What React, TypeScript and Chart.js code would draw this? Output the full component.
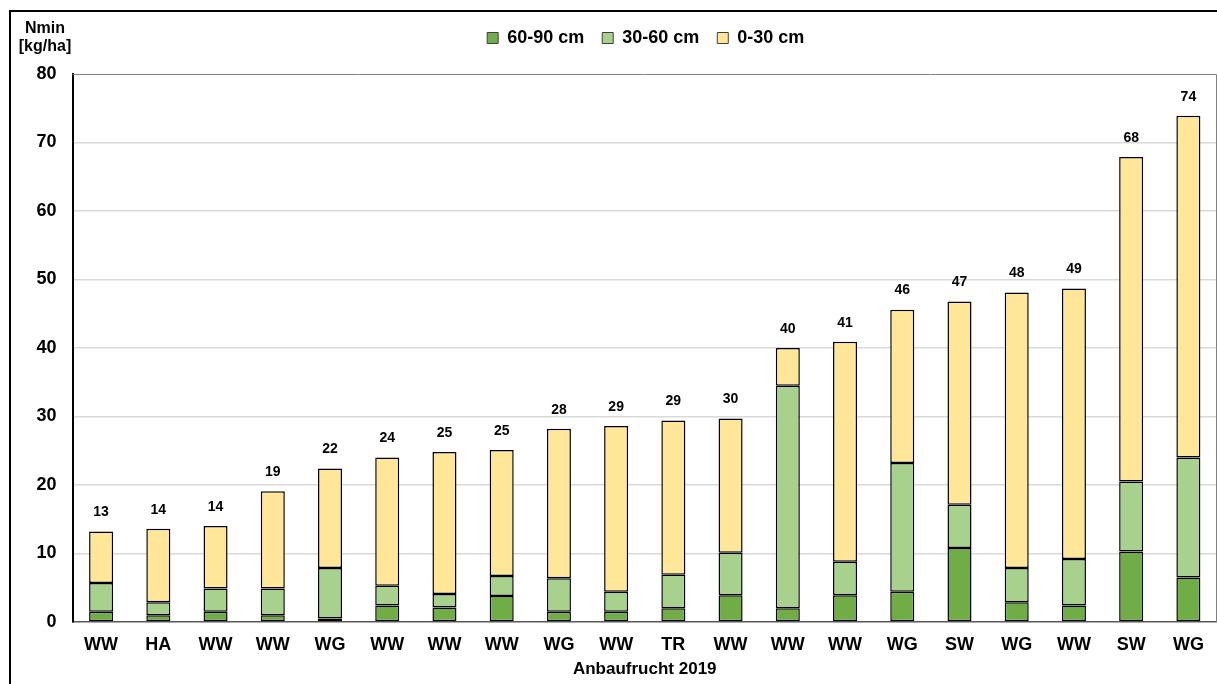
import React, { useEffect, useRef } from "react";
import { Chart, registerables } from "chart.js";

Chart.register(...registerables);

const categories = ["WW", "HA", "WW", "WW", "WG", "WW", "WW", "WW", "WG", "WW", "TR", "WW", "WW", "WW", "WG", "SW", "WG", "WW", "SW", "WG"];
const depth60to90 = [1.5, 1.0, 1.5, 1.0, 0.5, 2.4, 2.1, 3.8, 1.5, 1.5, 2.0, 3.9, 2.0, 3.9, 4.4, 10.8, 2.9, 2.4, 10.3, 6.5];
const depth30to60 = [4.2, 1.9, 3.4, 3.9, 7.4, 2.9, 2.0, 2.9, 4.9, 2.9, 4.9, 6.2, 32.5, 4.9, 18.8, 6.3, 5.0, 6.8, 10.2, 17.5];
const depth0to30 = [7.5, 10.7, 9.1, 14.2, 14.5, 18.7, 20.7, 18.4, 21.8, 24.2, 22.5, 19.6, 5.5, 32.1, 22.4, 29.7, 40.2, 39.5, 47.4, 49.9];
const yTicks = [0, 10, 20, 30, 40, 50, 60, 70, 80];

const FONT = "'Liberation Sans', Arial, sans-serif";

const decorPlugin = {
  id: "decor",
  afterLayout(chart: any) {
    if (chart.legend) {
      chart.legend.left += 20;
      chart.legend.right += 20;
    }
  },
  beforeDraw(chart: any) {
    const ctx = chart.ctx;
    ctx.save();
    ctx.strokeStyle = "#000";
    ctx.lineWidth = 2;
    ctx.beginPath();
    ctx.moveTo(10, 684);
    ctx.lineTo(10, 11);
    ctx.lineTo(1217, 11);
    ctx.stroke();
    ctx.fillStyle = "#000";
    ctx.font = `bold 16px ${FONT}`;
    ctx.textAlign = "center";
    ctx.textBaseline = "middle";
    ctx.fillText("Nmin", 45, 29);
    ctx.fillText("[kg/ha]", 45, 47);
    ctx.restore();
  },
  afterDraw(chart: any) {
    const ctx = chart.ctx;
    const a = chart.chartArea;
    ctx.save();
    ctx.strokeStyle = "#808080";
    ctx.lineWidth = 1;
    ctx.beginPath();
    ctx.moveTo(a.left, a.top + 0.5);
    ctx.lineTo(a.right - 0.5, a.top + 0.5);
    ctx.lineTo(a.right - 0.5, a.bottom);
    ctx.stroke();
    const meta = chart.getDatasetMeta(2);
    ctx.fillStyle = "#000";
    ctx.font = `bold 14px ${FONT}`;
    ctx.textAlign = "center";
    ctx.textBaseline = "middle";
    meta.data.forEach((el: any, i: number) => {
      const total = depth60to90[i] + depth30to60[i] + depth0to30[i];
      ctx.fillText(String(Math.round(total)), el.x, el.y - 19);
    });
    ctx.restore();
  },
};

export default function App() {
  const ref = useRef<HTMLCanvasElement | null>(null);
  useEffect(() => {
    if (!ref.current) return;
    const ds = (label: string, data: number[], color: string) => ({
      label,
      data,
      backgroundColor: color,
      borderColor: "#000",
      borderWidth: 1.5,
      borderSkipped: false,
      categoryPercentage: 1,
      barPercentage: 0.42,
    });
    const chart = new Chart(ref.current, {
      type: "bar",
      data: {
        labels: categories,
        datasets: [
          ds("60-90 cm", depth60to90, "#70AD47"),
          ds("30-60 cm", depth30to60, "#A9D18E"),
          ds("0-30 cm", depth0to30, "#FFE699"),
        ],
      },
      plugins: [decorPlugin],
      options: {
        responsive: false,
        animation: false,
        layout: { padding: { left: 34.5, right: 0, top: 11, bottom: 2 } },
        plugins: {
          title: {
            display: true,
            text: "",
            weight: 500,
            font: { size: 10 },
            padding: { top: 0, bottom: 5 },
          },
          legend: {
            display: true,
            position: "top",
            labels: {
              boxWidth: 11,
              boxHeight: 11,
              padding: 18,
              color: "#000",
              font: { family: FONT, size: 18, weight: "bold" },
              generateLabels: (chart: any) =>
                chart.data.datasets.map((d: any, i: number) => ({
                  text: d.label,
                  fillStyle: d.backgroundColor,
                  strokeStyle: "#404040",
                  lineWidth: 1,
                  datasetIndex: i,
                  fontColor: "#000",
                })),
            },
          },
          tooltip: { enabled: false },
        },
        scales: {
          x: {
            stacked: true,
            afterFit: (scale: any) => { scale.height = 60; },
            grid: { display: false, drawTicks: false },
            border: { color: "#595959", width: 1.5 },
            ticks: { color: "#000", padding: 12, font: { family: FONT, size: 18, weight: "bold" }, maxRotation: 0, autoSkip: false },
            title: { display: true, text: "Anbaufrucht 2019", color: "#000", font: { family: FONT, size: 17, weight: "bold" }, padding: { top: 2, bottom: 2 } },
          },
          y: {
            stacked: true,
            min: 0,
            max: 80,
            afterFit: (scale: any) => { scale.width = 38; },
            afterBuildTicks: (scale: any) => { scale.ticks = yTicks.map((v) => ({ value: v })); },
            grid: { color: (c: any) => (c.tick && (c.tick.value === 0 || c.tick.value === 80) ? "rgba(0,0,0,0)" : "#D9D9D9"), lineWidth: 1.5, drawTicks: false },
            border: { color: "#000", width: 2 },
            ticks: { color: "#000", padding: 16, font: { family: FONT, size: 18, weight: "bold" } },
          },
        },
      },
    });
    return () => chart.destroy();
  }, []);
  return (
    <div style={{ position: "absolute", left: 0, top: 0, width: 1217, height: 684, background: "#fff" }}>
      <canvas ref={ref} width={1217} height={684} style={{ display: "block" }} />
    </div>
  );
}
